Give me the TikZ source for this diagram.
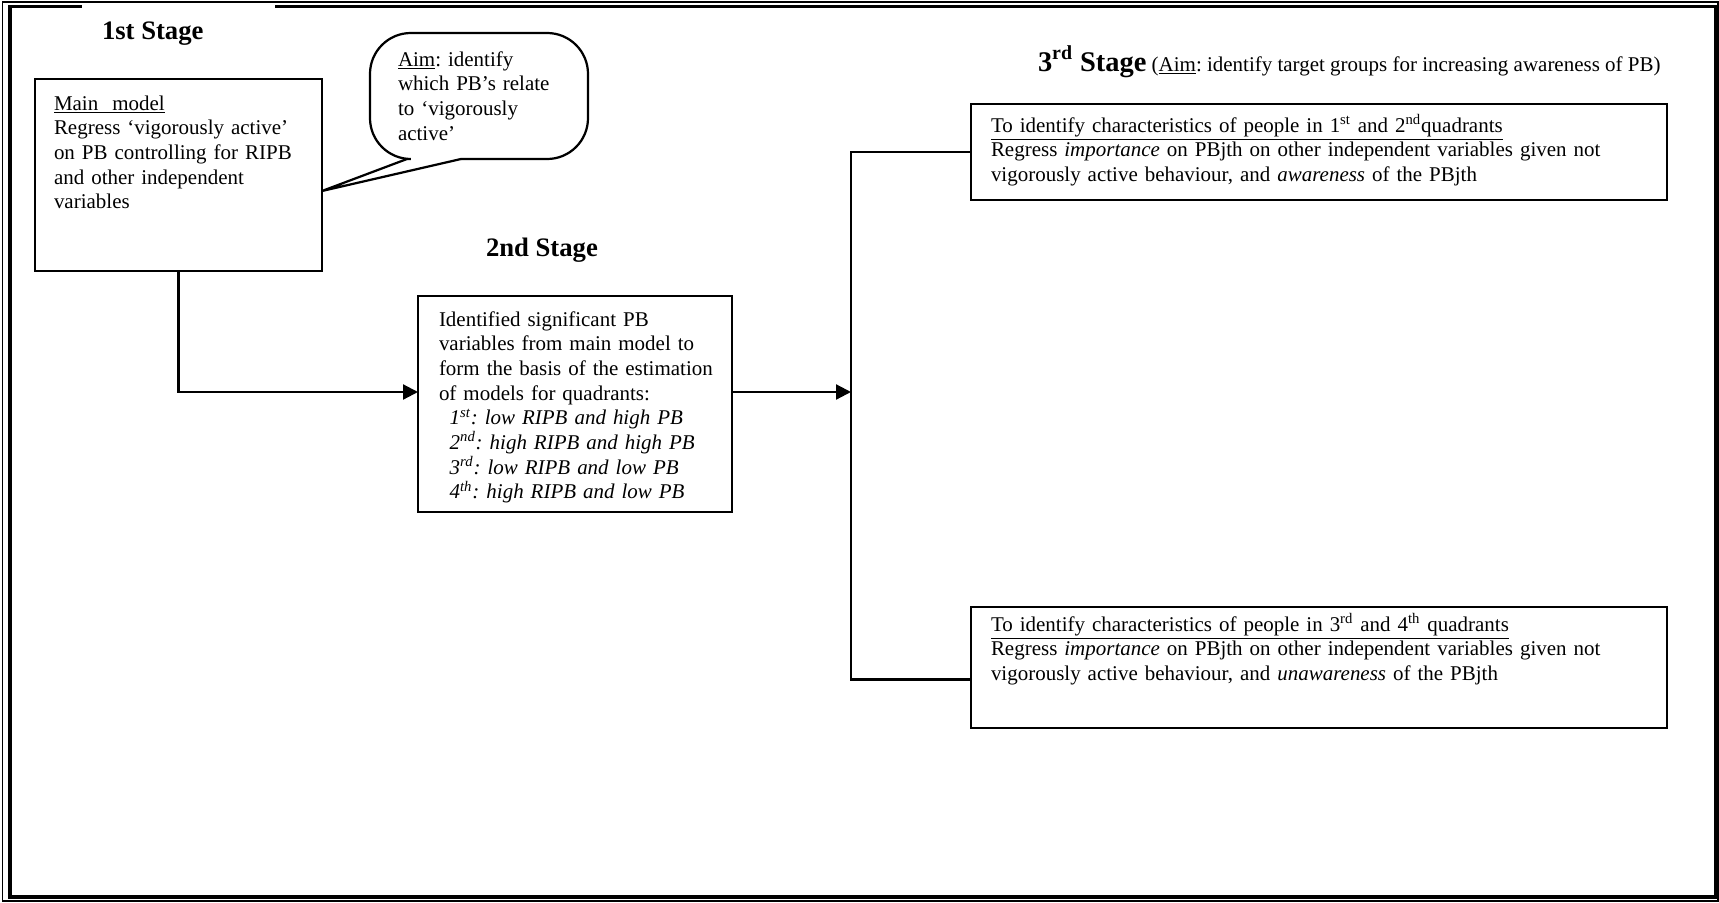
\documentclass[tikz,border=0pt]{standalone}
\usepackage{fontspec}
\setmainfont{Liberation Serif}
\usetikzlibrary{arrows.meta,fit}
\frenchspacing
\begin{document}
\begin{tikzpicture}[x=0.5625pt,y=-0.5625pt,
  every node/.style={inner sep=0pt, outer sep=0pt},
  boxline/.style={draw, line width=1.25pt, inner sep=0pt},
  conn/.style={line width=1.25pt},
  arr/.style={line width=1.25pt, -{Triangle[length=8.4pt,width=8.4pt]}},
  txt/.style={anchor=base west, align=left, font=\fontsize{11.8}{13.9}\selectfont\frenchspacing},
  stagehead/.style={anchor=base west, font=\fontsize{15}{18}\selectfont\bfseries}]
\useasboundingbox (0,0) rectangle (1719,903);
% page frame
\draw[line width=1pt] (2.5,1.8) rectangle (1718.2,901.3);
\draw[line width=1.9pt, line join=miter] (275,6.5) -- (1715.3,6.5) -- (1715.3,897) -- (10,897) -- (10,6.5) -- (82,6.5);
% stage headings
\node[stagehead] (s1) at (102,40) {1st Stage};
\node[stagehead] (s2) at (486,256) {2nd Stage};
\node[anchor=base west, font=\fontsize{11.8}{13.9}\selectfont\frenchspacing] (s3) at (1038,71)
  {{\fontsize{16}{19}\selectfont\bfseries 3\textsuperscript{rd} Stage} (\underline{Aim}: identify target groups for increasing awareness of PB)};
% boxes
\node[boxline, fit={(35,79) (322,271)}] (m) {};
\node[boxline, fit={(418,296) (732,512)}] (b2) {};
\node[boxline, fit={(971,104) (1667,200)}] (b3a) {};
\node[boxline, fit={(971,607) (1667,728)}] (b3b) {};
% texts
\node[txt, text width=170pt] (mt) at (54,110)
  {\underline{Main\ \ model}\\
   Regress ‘vigorously active’\\
   on PB controlling for RIPB\\
   and other independent\\
   variables};
\node[txt, text width=180pt] (b2t) at (439,326)
  {Identified significant PB\\
   variables from main model to\\
   form the basis of the estimation\\
   of models for quadrants:\\
   \hspace*{6pt}\textit{1\textsuperscript{st}: low RIPB and high PB}\\
   \hspace*{6pt}\textit{2\textsuperscript{nd}: high RIPB and high PB}\\
   \hspace*{6pt}\textit{3\textsuperscript{rd}: low RIPB and low PB}\\
   \hspace*{6pt}\textit{4\textsuperscript{th}: high RIPB and low PB}};
\node[txt, text width=360pt] (b3at) at (991,132)
  {\underline{To identify characteristics of people in 1\textsuperscript{st} and 2\textsuperscript{nd}quadrants}\\
   Regress \textit{importance} on PBjth on other independent variables given not\\
   vigorously active behaviour, and \textit{awareness} of the PBjth};
\node[txt, text width=360pt] (b3bt) at (991,631)
  {\underline{To identify characteristics of people in 3\textsuperscript{rd} and 4\textsuperscript{th} quadrants}\\
   Regress \textit{importance} on PBjth on other independent variables given not\\
   vigorously active behaviour, and \textit{unawareness} of the PBjth};
% callout
\draw[conn, rounded corners=23] (407,159) -- (370,159) -- (370,33) -- (588,33) -- (588,159) -- (461,159);
\coordinate (tip) at (m.east |- 0,191);
\draw[conn, line join=miter] (407,159) -- (tip) -- (461,159);
\node[txt, text width=110pt] (aim) at (398,66)
  {\underline{Aim}: identify\\
   which PB’s relate\\
   to ‘vigorously\\
   active’};
% connectors
\coordinate (jn) at (851,392);
\draw[arr] (m.south) |- ([shift={(0,-12)}]b2.west);
\draw[arr] ([shift={(0,-12)}]b2.east) -- (jn);
\draw[conn] (b3a.west) -| (jn) |- ([shift={(0,12)}]b3b.west);
\end{tikzpicture}
\end{document}
